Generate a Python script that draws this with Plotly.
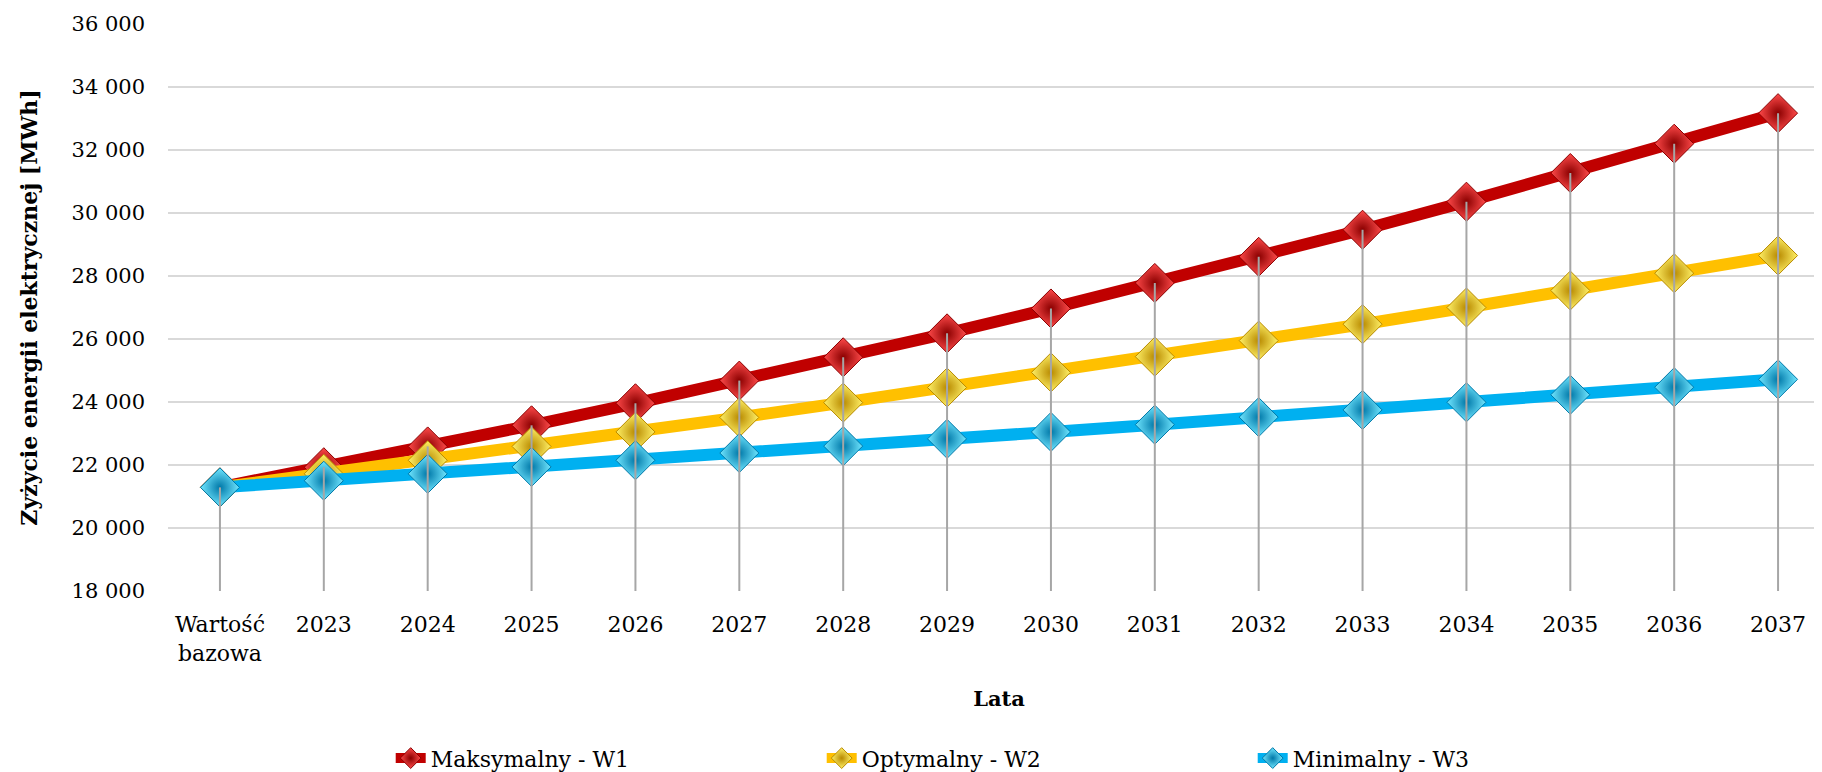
import plotly.graph_objects as go

categories = ["Wartość<br>bazowa", "2023", "2024", "2025", "2026", "2027", "2028", "2029",
              "2030", "2031", "2032", "2033", "2034", "2035", "2036", "2037"]

w1_max = [21290, 21930, 22590, 23260, 23960, 24680, 25420, 26180,
          26970, 27780, 28610, 29470, 30360, 31270, 32200, 33170]
w2_opt = [21290, 21720, 22150, 22590, 23050, 23510, 23980, 24460,
          24940, 25440, 25950, 26470, 27000, 27540, 28090, 28650]
w3_min = [21290, 21500, 21720, 21940, 22150, 22380, 22600, 22830,
          23050, 23280, 23520, 23750, 23990, 24230, 24470, 24720]

series = [
    ("Maksymalny - W1", w1_max, "#C00000", "#FF4A4A", "#8A0000"),
    ("Optymalny - W2", w2_opt, "#FFC000", "#FFF066", "#B88A00"),
    ("Minimalny - W3", w3_min, "#00B0F0", "#70E6FF", "#0078A8"),
]

FONT = "DejaVu Serif"

fig = go.Figure()
for name, vals, col, light, dark in series:
    fig.add_trace(go.Scatter(
        x=categories, y=vals, name=name, mode="lines+markers",
        line=dict(color=col, width=12),
        marker=dict(symbol="diamond", size=30, color=light,
                    gradient=dict(type="radial", color=dark),
                    line=dict(color=dark, width=1)),
    ))

# high-low lines from the axis up to the highest series
drop_x, drop_y = [], []
for i, c in enumerate(categories):
    drop_x += [c, c, None]
    drop_y += [18000, max(w1_max[i], w2_opt[i], w3_min[i]), None]
fig.add_trace(go.Scatter(x=drop_x, y=drop_y, mode="lines", showlegend=False,
                         hoverinfo="skip", line=dict(color="#A6A6A6", width=2)))

fig.update_xaxes(
    type="category", range=[-0.5, 15.5], showgrid=False, showline=False,
    tickfont=dict(family=FONT, size=22, color="#000000"), ticklabelstandoff=18,
    title=dict(text="<b>Lata</b>", font=dict(family=FONT, size=21, color="#000000"), standoff=26),
)
fig.update_yaxes(
    range=[18000, 36000], dtick=2000, showgrid=True, gridcolor="#D9D9D9", gridwidth=2,
    zeroline=False, showline=False, tickformat=",d", ticklabelstandoff=22,
    tickfont=dict(family=FONT, size=21, color="#000000"),
    title=dict(text="<b>Zyżycie energii elektrycznej [MWh]</b>",
               font=dict(family=FONT, size=22, color="#000000"), standoff=27),
)
fig.update_layout(
    width=1822, height=772,
    separators=". ",
    margin=dict(l=160, r=0, t=16, b=189),
    paper_bgcolor="white", plot_bgcolor="white",
    font=dict(family=FONT, size=20, color="#000000"),
    legend=dict(orientation="h", x=0.134, xanchor="left", y=-0.295, yanchor="middle",
                entrywidth=386, entrywidthmode="pixels",
                font=dict(family=FONT, size=22, color="#000000")),
)
fig.write_html("out.html")
